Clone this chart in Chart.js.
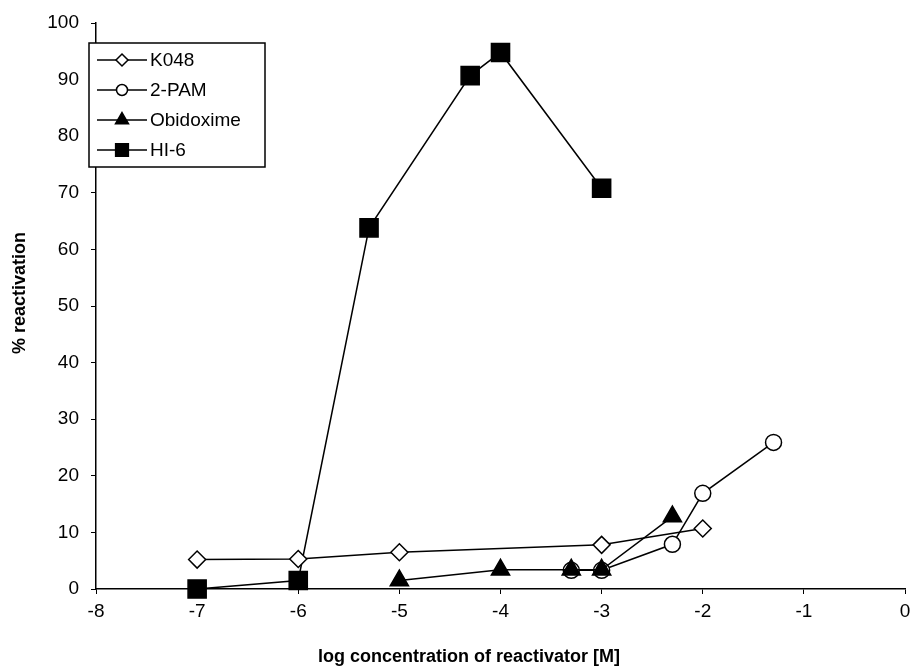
<!DOCTYPE html>
<html><head><meta charset="utf-8">
<script src="https://cdn.jsdelivr.net/npm/chart.js@4/dist/chart.umd.min.js"></script>
<style>html,body{margin:0;padding:0;background:#fff}#wrap{width:911px;height:668px}</style>
</head><body><div id="wrap"><canvas id="c" width="911" height="668"></canvas></div>
<script>
// ---- data ----
const seriesNames = ['K048', '2-PAM', 'Obidoxime', 'HI-6'];
const k048X = [-7, -6, -5, -3, -2];
const k048Y = [5.2, 5.3, 6.5, 7.8, 10.7];
const pamX = [-3.3, -3, -2.3, -2, -1.3];
const pamY = [3.3, 3.3, 7.9, 16.9, 25.9];
const obiX = [-5, -4, -3.3, -3, -2.3];
const obiY = [1.5, 3.4, 3.4, 3.4, 12.8];
const hi6X = [-7, -6, -5.3, -4.3, -4, -3];
const hi6Y = [0, 1.5, 63.8, 90.7, 94.8, 70.8];
const xTicks = [-8, -7, -6, -5, -4, -3, -2, -1, 0];
const yTicks = [0, 10, 20, 30, 40, 50, 60, 70, 80, 90, 100];
const xTitle = 'log concentration of reactivator [M]';
const yTitle = '% reactivation';

const pts = (xs, ys) => xs.map((x, i) => ({x: x, y: ys[i]}));
const FONT = '"Liberation Sans", Arial, sans-serif';

const base = {borderColor: '#000', borderWidth: 1.5, pointBorderColor: '#000', pointBorderWidth: 1.5,
  pointHoverRadius: 0, tension: 0, clip: false, showLine: true};

const datasets = [
  Object.assign({}, base, {label: seriesNames[0], data: pts(k048X, k048Y), pointStyle: 'rectRot', pointRadius: 8.5, pointBackgroundColor: '#fff', order: 1, legendR: 6}),
  Object.assign({}, base, {label: seriesNames[1], data: pts(pamX, pamY), pointStyle: 'circle', pointRadius: 8, pointBackgroundColor: '#fff', order: 3, legendR: 5.5}),
  Object.assign({}, base, {label: seriesNames[2], data: pts(obiX, obiY), pointStyle: 'triangle', pointRadius: 10.5, pointBackgroundColor: '#000', order: 2, legendR: 7.5}),
  Object.assign({}, base, {label: seriesNames[3], data: pts(hi6X, hi6Y), pointStyle: 'rect', pointRadius: 12.8, pointBackgroundColor: '#000', order: 4, legendR: 9})
];

function drawMarker(ctx, style, r, x, y, fill) {
  ctx.save();
  ctx.fillStyle = fill; ctx.strokeStyle = '#000'; ctx.lineWidth = 1.5;
  if (Chart.helpers && Chart.helpers.drawPoint) {
    Chart.helpers.drawPoint(ctx, {pointStyle: style, rotation: 0, radius: r, borderWidth: 1.5}, x, y);
  } else {
    ctx.beginPath(); ctx.arc(x, y, r, 0, Math.PI * 2); ctx.fill(); ctx.stroke();
  }
  ctx.restore();
}

const boxLegend = {
  id: 'boxLegend',
  afterDraw(chart) {
    const ctx = chart.ctx;
    const x0 = 89, y0 = 43, w = 176, h = 124;
    ctx.save();
    ctx.fillStyle = '#fff'; ctx.fillRect(x0, y0, w, h);
    ctx.strokeStyle = '#000'; ctx.lineWidth = 1.5; ctx.strokeRect(x0, y0, w, h);
    ctx.font = '19px ' + FONT; ctx.textBaseline = 'middle'; ctx.textAlign = 'left';
    chart.data.datasets.forEach((ds, i) => {
      const cy = y0 + 17 + i * 30;
      ctx.strokeStyle = '#000'; ctx.lineWidth = 1.5;
      ctx.beginPath(); ctx.moveTo(x0 + 8, cy); ctx.lineTo(x0 + 58, cy); ctx.stroke();
      drawMarker(ctx, ds.pointStyle, ds.legendR, x0 + 33, cy, ds.pointBackgroundColor);
      ctx.fillStyle = '#000';
      ctx.fillText(ds.label, x0 + 61, cy + 1);
    });
    ctx.restore();
  }
};

const axisTitles = {
  id: 'axisTitles',
  afterDraw(chart) {
    const ctx = chart.ctx;
    ctx.save();
    ctx.fillStyle = '#000';
    ctx.font = 'bold 18px ' + FONT;
    ctx.textAlign = 'center'; ctx.textBaseline = 'middle';
    ctx.fillText(xTitle, 469, 657);
    ctx.translate(20, 293);
    ctx.rotate(-Math.PI / 2);
    ctx.fillText(yTitle, 0, 0);
    ctx.restore();
  }
};

const axisCommon = {
  grid: {display: true, drawOnChartArea: false, drawTicks: true, tickLength: 5, color: '#000', lineWidth: 1},
  border: {display: true, color: '#000', width: 1.5}
};

new Chart(document.getElementById('c'), {
  type: 'scatter',
  data: {datasets: datasets},
  options: {
    responsive: false, animation: false, devicePixelRatio: 1,
    layout: {autoPadding: false, padding: {left: 0, right: 6, top: 23, bottom: 0}},
    plugins: {legend: {display: false}, tooltip: {enabled: false}},
    scales: {
      x: Object.assign({}, axisCommon, {
        type: 'linear', min: xTicks[0], max: xTicks[xTicks.length - 1],
        afterBuildTicks: s => { s.ticks = xTicks.map(v => ({value: v})); },
        afterFit: s => { s.height = 79; s.paddingRight = 0; s.paddingLeft = 0; },
        ticks: {color: '#000', font: {family: FONT, size: 19}, padding: 6, maxRotation: 0},
        title: {display: false}
      }),
      y: Object.assign({}, axisCommon, {
        type: 'linear', min: yTicks[0], max: yTicks[yTicks.length - 1],
        afterBuildTicks: s => { s.ticks = yTicks.map(v => ({value: v})); },
        afterFit: s => { s.width = 96; s.paddingTop = 0; s.paddingBottom = 0; },
        ticks: {color: '#000', font: {family: FONT, size: 19}, padding: 12},
        title: {display: false}
      })
    }
  },
  plugins: [boxLegend, axisTitles]
});
</script>
</body></html>
